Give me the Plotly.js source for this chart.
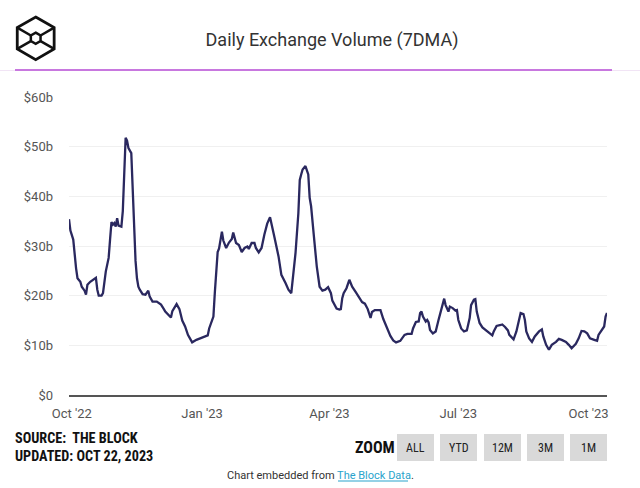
<!DOCTYPE html>
<html>
<head>
<meta charset="utf-8">
<script src="https://cdn.plot.ly/plotly-3.0.1.min.js"></script>
<style>html,body{margin:0;padding:0;background:#fff;}#chart{width:640px;height:488px;}</style>
</head>
<body>
<div id="chart"></div>
<script>
// ---- data ----
const dates = [
"2022-09-29","2022-09-30","2022-10-02","2022-10-03","2022-10-04","2022-10-05","2022-10-07","2022-10-08","2022-10-10","2022-10-11",
"2022-10-12","2022-10-14","2022-10-16","2022-10-18","2022-10-19","2022-10-20","2022-10-22","2022-10-23","2022-10-25","2022-10-27",
"2022-10-28","2022-10-29","2022-10-30","2022-10-31","2022-11-01","2022-11-02","2022-11-03","2022-11-05","2022-11-06","2022-11-07",
"2022-11-08","2022-11-09","2022-11-10","2022-11-12","2022-11-13","2022-11-14","2022-11-15","2022-11-16","2022-11-17","2022-11-18",
"2022-11-20","2022-11-22","2022-11-24","2022-11-25","2022-11-27","2022-11-30","2022-12-03","2022-12-05","2022-12-06","2022-12-10",
"2022-12-11","2022-12-14","2022-12-16","2022-12-18","2022-12-20","2022-12-22","2022-12-25","2022-12-28","2022-12-31","2023-01-03",
"2023-01-05","2023-01-06","2023-01-07","2023-01-09","2023-01-10","2023-01-11","2023-01-12","2023-01-13","2023-01-15","2023-01-16",
"2023-01-18","2023-01-20","2023-01-22","2023-01-23","2023-01-25","2023-01-27","2023-01-29","2023-01-31","2023-02-02","2023-02-03",
"2023-02-05","2023-02-07","2023-02-08","2023-02-10","2023-02-12","2023-02-14","2023-02-16","2023-02-18","2023-02-20","2023-02-21",
"2023-02-24","2023-02-26","2023-03-01","2023-03-03","2023-03-05","2023-03-06","2023-03-08","2023-03-10","2023-03-11","2023-03-12",
"2023-03-13","2023-03-15","2023-03-17","2023-03-18","2023-03-19","2023-03-21","2023-03-23","2023-03-25","2023-03-27","2023-03-29",
"2023-03-31","2023-04-02","2023-04-03","2023-04-06","2023-04-08","2023-04-09","2023-04-10","2023-04-11","2023-04-13","2023-04-15",
"2023-04-17","2023-04-20","2023-04-22","2023-04-24","2023-04-26","2023-04-28","2023-04-30","2023-05-01","2023-05-03","2023-05-07",
"2023-05-09","2023-05-11","2023-05-14","2023-05-16","2023-05-18","2023-05-21","2023-05-24","2023-05-26","2023-05-29","2023-05-30",
"2023-06-01","2023-06-03","2023-06-04","2023-06-05","2023-06-06","2023-06-08","2023-06-09","2023-06-10","2023-06-11","2023-06-13",
"2023-06-15","2023-06-17","2023-06-19","2023-06-20","2023-06-21","2023-06-22","2023-06-24","2023-06-25","2023-06-27","2023-06-29",
"2023-06-30","2023-07-01","2023-07-03","2023-07-05","2023-07-07","2023-07-09","2023-07-10","2023-07-12","2023-07-13","2023-07-14",
"2023-07-16","2023-07-18","2023-07-20","2023-07-23","2023-07-25","2023-07-26","2023-07-28","2023-07-31","2023-08-01","2023-08-03",
"2023-08-05","2023-08-06","2023-08-09","2023-08-11","2023-08-13","2023-08-14","2023-08-16","2023-08-17","2023-08-18","2023-08-20",
"2023-08-22","2023-08-24","2023-08-27","2023-08-29","2023-08-30","2023-09-01","2023-09-03","2023-09-05","2023-09-08","2023-09-10",
"2023-09-12","2023-09-15","2023-09-17","2023-09-19","2023-09-22","2023-09-24","2023-09-26","2023-09-28","2023-09-30","2023-10-02",
"2023-10-05","2023-10-07","2023-10-08","2023-10-10","2023-10-12","2023-10-13","2023-10-14"
];
const volumeB = [
35.4,33.1,31.3,27.6,25.5,23.5,22.8,21.8,21.0,20.2,
22.2,22.8,23.3,23.6,21.2,20.0,20.0,20.5,24.9,27.6,
31.3,34.8,34.3,34.6,33.9,35.6,34.1,33.9,37.0,45.7,
51.8,51.2,49.7,48.7,41.0,32.0,27.0,23.5,21.8,21.2,
20.3,20.2,21.0,19.8,18.8,18.8,18.2,17.3,16.8,15.6,
16.9,18.3,17.3,15.0,13.8,12.1,10.6,11.1,11.4,11.8,
12.0,13.4,14.3,15.8,20.6,26.0,28.8,29.5,32.9,31.1,
29.6,30.7,31.4,32.7,30.6,30.2,28.8,29.6,29.9,29.4,
30.6,30.6,29.6,28.7,29.6,32.3,34.5,35.8,32.9,31.9,
27.9,24.2,22.5,21.2,20.5,23.2,28.6,36.6,43.3,44.4,
45.4,46.1,44.4,39.7,38.0,31.9,25.9,21.8,21.0,21.2,
21.7,20.5,19.0,17.4,17.2,17.3,19.5,20.5,21.5,23.2,
21.8,20.5,19.6,18.7,18.4,17.3,15.5,16.7,17.1,17.1,
15.3,13.8,11.9,11.0,10.6,10.9,12.1,12.3,12.3,13.4,
14.7,14.8,16.5,16.8,15.8,14.8,15.1,14.6,13.1,12.4,
12.8,15.1,17.3,18.8,19.4,18.1,16.8,17.8,17.5,17.0,
17.1,15.1,13.4,12.8,13.0,15.5,18.1,19.2,19.3,16.8,
14.5,13.6,13.1,12.4,12.0,12.8,13.9,14.1,14.2,13.7,
13.0,12.1,11.2,12.8,15.8,16.5,16.3,15.1,12.8,11.4,
10.7,11.8,12.8,13.2,11.8,10.1,9.1,10.1,10.7,11.3,
11.1,10.7,10.1,9.4,10.3,11.4,12.9,12.8,12.4,11.4,
11.1,10.9,12.1,13.1,13.8,15.8,16.5
];
const xTickVals = ["2022-10-01","2023-01-01","2023-04-01","2023-07-01","2023-10-01"];
const xTickText = ["Oct '22","Jan '23","Apr '23","Jul '23","Oct '23"];
const yTickVals = [0,10,20,30,40,50,60];
const yTickText = ["$0","$10b","$20b","$30b","$40b","$50b","$60b"];
const zoomButtons = ["ALL","YTD","12M","3M","1M"];

// ---- pixel helpers for decorations (plot area 69..607 x 97..395) ----
const PL = 69, PR = 607, PT = 97, PB = 395;
const px = x => (x - PL) / (PR - PL);
const py = y => (PB - y) / (PB - PT);

const shapes = [];
const annotations = [];

// header separator lines
shapes.push({type:'line', xref:'paper', yref:'paper', x0:px(0), x1:px(640), y0:py(70.5), y1:py(70.5), line:{color:'#f1e4f5', width:1}});
shapes.push({type:'line', xref:'paper', yref:'paper', x0:px(15), x1:px(612), y0:py(70), y1:py(70), line:{color:'#c878df', width:2}});

// logo (outer hexagon, inner hexagon, spokes)
(function(){
  const cx = 35.7, cy = 38.3, R = 21.3, r = 5.6;
  const ang = [-90,-30,30,90,150,210].map(a => a*Math.PI/180);
  const outer = ang.map(a => [cx + R*Math.cos(a), cy + R*Math.sin(a)]);
  const inner = ang.map(a => [cx + r*Math.cos(a), cy + r*Math.sin(a)]);
  const poly = pts => 'M' + pts.map(p => px(p[0]) + ',' + py(p[1])).join(' L') + ' Z';
  shapes.push({type:'path', xref:'paper', yref:'paper', path: poly(outer), line:{color:'#111', width:2.8}});
  shapes.push({type:'path', xref:'paper', yref:'paper', path: poly(inner), line:{color:'#111', width:2.5}});
  [1,2,4,5].forEach(i => {
    shapes.push({type:'line', xref:'paper', yref:'paper', x0:px(outer[i][0]), y0:py(outer[i][1]), x1:px(inner[i][0]), y1:py(inner[i][1]), line:{color:'#111', width:2.5}});
  });
})();

// source text (two lines in one block)
const narrow = 'Liberation Sans Narrow, Arial Narrow, Roboto Condensed, sans-serif';
annotations.push({xref:'paper', yref:'paper', x:px(13), y:py(446.5), xanchor:'left', yanchor:'middle', align:'left', showarrow:false,
  text:'<b>SOURCE:  THE BLOCK</b><br><b>UPDATED: OCT 22, 2023</b>', font:{family:narrow, size:14.2, color:'#111'}});

// zoom label + buttons
annotations.push({xref:'paper', yref:'paper', x:px(375), y:py(447), xanchor:'center', yanchor:'middle', showarrow:false,
  text:'<b>ZOOM</b>', font:{family:narrow, size:16, color:'#111'}});
const btnX0 = [397, 440, 484, 527, 570];
zoomButtons.forEach((lab, i) => {
  const x0 = btnX0[i], x1 = x0 + 37;
  shapes.push({type:'rect', xref:'paper', yref:'paper', x0:px(x0), x1:px(x1), y0:py(461), y1:py(434), fillcolor:'#d9d9d9', line:{width:0}});
  annotations.push({xref:'paper', yref:'paper', x:px((x0+x1)/2), y:py(448), xanchor:'center', yanchor:'middle', showarrow:false,
    text:lab, font:{family:narrow, size:12, color:'#222'}});
});

// footer
annotations.push({xref:'paper', yref:'paper', x:px(320), y:py(475), xanchor:'center', yanchor:'middle', showarrow:false,
  text:'Chart embedded from <span style="color:#29a3cc">The Block Data</span>.', font:{family:'Roboto, sans-serif', size:11, color:'#333'}});
shapes.push({type:'line', xref:'paper', yref:'paper', x0:px(338), x1:px(408), y0:py(481), y1:py(481), line:{color:'#29a3cc', width:1}});

const trace = {
  type:'scatter', mode:'lines', x: dates, y: volumeB,
  line:{color:'#2a285f', width:2.3, shape:'linear'},
  hoverinfo:'x+y', showlegend:false
};

const layout = {
  width:640, height:488,
  margin:{l:PL, r:640-PR, t:PT, b:488-PB, pad:0},
  paper_bgcolor:'#ffffff', plot_bgcolor:'#ffffff',
  title:{text:'Daily Exchange Volume (7DMA)', x:332/640, xref:'container', xanchor:'center', y:1-40/488, yref:'container', yanchor:'middle',
    font:{family:'Roboto, sans-serif', size:18, color:'#333'}},
  xaxis:{type:'date', range:[dates[0], dates[dates.length-1]], tickmode:'array', tickvals:xTickVals, ticktext:xTickText,
    showgrid:false, zeroline:false, showline:true, linecolor:'#555', linewidth:2, ticks:'', ticklabelstandoff:5,
    tickfont:{family:'Roboto, sans-serif', size:13, color:'#555'}, fixedrange:true},
  yaxis:{range:[0,60], tickmode:'array', tickvals:yTickVals, ticktext:yTickText,
    showgrid:true, gridcolor:'#f0f0f0', gridwidth:1, zeroline:false, showline:false, ticks:'', ticklabelstandoff:15,
    tickfont:{family:'Roboto, sans-serif', size:13, color:'#555'}, fixedrange:true},
  shapes: shapes, annotations: annotations, showlegend:false
};

Plotly.newPlot('chart', [trace], layout, {displayModeBar:false, staticPlot:true});
</script>
</body>
</html>
